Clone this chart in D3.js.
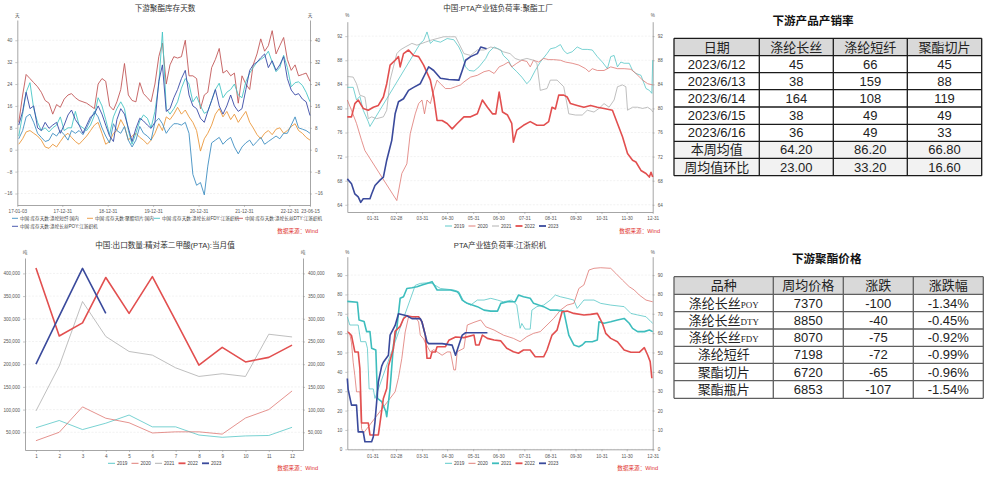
<!DOCTYPE html>
<html><head><meta charset="utf-8">
<script src="https://cdn.jsdelivr.net/npm/d3@7"></script>
<style>
body{margin:0;background:#fff;}
svg{display:block;background:#fff;}
</style></head><body>
<svg id="c" width="993" height="482"></svg>
<script>
// ================= DATA =================
// Chart 1: 下游聚酯库存天数 (monthly readings, Jan 2017 – Jun 2023)
const invNames = ["中国:库存天数:涤纶短纤:国内","中国:库存天数:聚酯切片:国内","中国:库存天数:涤纶长丝FDY:江浙织机","中国:库存天数:涤纶长丝DTY:江浙织机","中国:库存天数:涤纶长丝POY:江浙织机"];
const invStaple = [4,7,12,13,10,6,4.5,3,3.5,6,5,7,5.5,3.5,7,6,7,5.5,8,11,14,12,8,5,2.5,9.5,7,6,8.5,3.5,1,3.5,8.5,6,5,3.5,10,11.5,9.5,6,8,9.5,9.5,9,10,6,-9,-13,-12,-16.5,-6,2.5,3.5,4.5,2,3.5,4.5,1,-1.5,1,2.5,3.5,1.5,3,4.5,2,3,4,5,4,6,6,9,12,8,7.5,7,6];
const invChips = [2,4,6.5,7,6,5,3.5,1,0.5,2,1,3,5,6,4.5,3,2,3.5,5,7,9,10,6,2,3,6,7,11,8.5,3.5,5,6,4.5,3.5,2,3.5,6,9.5,7,12,11,13,15.5,13,14.5,12,10,7,-0.5,4,6,9,13,15,12,14,11,13,10,12,14,10,8,5.5,4,6,7,5.5,7.5,8,6,7,8.5,9.5,7,6,4.5,3.5];
const invFDY = [5,13,21,24.5,15,10,7,8,6.5,8,9,12,7,8,8,14,9,8,7,9,12.5,19,16,11,5.5,12,15,17.5,15,7,2,6,10.5,12.7,11.5,8,14,24,43,15,13,15,17.5,22.5,26,24,17.5,19.5,16,13.3,14,18,22,24.3,19,21,22,24,20,19,24.8,28,30,32,33,34,36,32,28.5,30,34.5,30,23,24.5,24.8,23.5,21,17.5];
const invDTY = [10,20,27.5,26,24.5,23,21,18,17,13,16.5,15.5,18.5,20,20.5,19,18,17.5,17,16,15,24,26,25,16,14.5,17.5,22,31.5,20,18,17.5,24.5,20.5,19,17.5,24,34,39,24,31,34,33.5,34,40,27,27,26,15,20,21,30,33,37,28,29,27,28,17,27,24,22,31,35,40.5,36,38,43.5,35,38,41,33,29,31,27,27.5,28,25];
const invPOY = [9,14,21,15,16,8,7,10,7.8,9,10,6,9,12.7,14.5,11,9,6,9,12,13,16,13,9,5,3,11,15,13,8,3,7.8,11.5,10.5,9,7.8,10,25,31,14,15,19,22,26,29,20,16,15,11.5,10,14,18,22,16,13,16,20,16,14,15,22,29,31,32,33.6,35,30,32.5,29,31,34,26,21.8,20,20.5,18.5,17.5,12.5];
const invYTicks = [-16,-8,0,8,16,24,32,40];
const invXTickLabels = ["17-01-03","17-12-31","18-12-31","19-12-31","20-12-31","21-12-31","22-12-31","23-06-15"];

// Chart 2: 中国:PTA产业链负荷率:聚酯工厂  [day of year, %]
const yearNames = ["2019","2020","2021","2022","2023"];
const poly2019 = [[0,83.5],[7,83.5],[11,81.4],[15,82],[19,79.7],[25,77.8],[27,77],[87,90.8],[91,91.3],[95,92.7],[99,90.8],[103,91.3],[111,91],[119,91.6],[127,91.4],[133,90.2],[137,89],[141,86.9],[145,86.3],[151,86.2],[157,86.9],[165,88.3],[169,89.4],[175,90.2],[183,89.7],[186,88.8],[192,88],[196,86.9],[202,86.1],[208,85.2],[214,84.1],[218,84.7],[224,86.3],[230,87.7],[238,89.1],[242,89.9],[248,90.1],[254,90.6],[258,89.6],[262,89.1],[268,89.4],[274,90.2],[280,89.8],[286,89.8],[292,89.7],[298,88.6],[304,87.7],[310,86.6],[314,88.6],[318,88.8],[322,86.9],[326,87.7],[330,87.5],[336,87.5],[340,86.3],[344,85.8],[350,85.5],[356,83.3],[360,83],[363,82.5],[364,88]];
const poly2020 = [[0,81.4],[5,79.7],[11,77.5],[17,74.7],[21,73],[59,64.7],[65,69.2],[71,70.8],[75,75.8],[81,79.1],[85,80.8],[89,81.4],[92,79.1],[95,81.4],[99,80.8],[103,83],[107,84.7],[111,84.1],[117,83.3],[123,83.3],[129,83.6],[135,83.9],[139,84.4],[147,85.2],[155,85.5],[163,86.1],[169,86.3],[175,85.8],[181,86.9],[186,87.2],[192,87.7],[196,86.9],[202,87.5],[208,88],[214,87.8],[218,86.9],[222,88],[228,87.7],[234,88.3],[240,88.1],[246,88.1],[254,88],[260,87.7],[268,87.5],[276,87.2],[284,86.6],[288,86.1],[292,86.6],[298,86.3],[306,86.3],[314,86.9],[322,86.6],[330,86.6],[338,86.5],[344,85.8],[352,84.7],[358,84.1],[364,83.9]];
const poly2021 = [[0,85.3],[7,85.2],[11,84.1],[15,82.2],[21,81.9],[25,78.3],[29,78.6],[35,78.3],[43,78.6],[47,79.7],[51,84.7],[55,86.9],[59,89.1],[63,89.7],[69,90.2],[77,90.8],[83,90.5],[89,90.8],[93,91],[99,91.3],[107,91.6],[115,91.9],[123,91.9],[129,91.9],[133,90.8],[139,89.1],[147,88.8],[155,89.7],[163,89.7],[171,90.2],[179,89.9],[186,89.4],[194,89.1],[200,88.3],[206,88],[214,88.3],[222,88],[226,87.5],[230,83],[238,83.3],[242,84.7],[250,84.7],[258,83.6],[264,79.1],[272,78.9],[280,78.9],[286,79.7],[294,79.4],[300,80],[306,80.8],[312,80.2],[318,81.4],[322,83.6],[328,83.9],[332,83.6],[334,79.7],[340,80.2],[346,80.2],[352,80],[358,80.2],[363,79.7],[364,79.4]];
const poly2022 = [[0,78.6],[5,78.6],[9,80.8],[13,81.4],[19,80],[25,79.7],[31,80.2],[37,80.5],[43,81.9],[47,84.1],[51,87.2],[57,88],[61,88.6],[63,86.9],[67,89.1],[73,89.7],[79,88.8],[85,88.6],[91,87.2],[99,84.7],[103,81.9],[107,78],[113,78],[119,77.5],[125,76.6],[131,77.5],[139,78.6],[147,78.6],[155,79.1],[161,81.4],[167,80.2],[173,79.1],[177,79.1],[181,82.7],[185,79.4],[191,78.9],[196,77.5],[198,74.4],[202,76.4],[210,77.2],[218,77.8],[226,77.2],[234,77.2],[240,77.8],[244,80.2],[248,79.9],[252,82.2],[258,82.2],[262,81.9],[266,80.8],[274,80.5],[282,80.2],[290,80.5],[298,80.2],[306,80],[316,79.7],[322,77.5],[328,75.3],[334,72.5],[340,71.4],[344,71.1],[350,69.7],[356,69.2],[360,68.6],[362,69.4],[364,68.6]];
const poly2023 = [[0,68.3],[5,67.5],[9,65.8],[13,65.3],[16,64.4],[19,65],[27,65],[29,65.8],[33,67.2],[39,68.1],[43,68.6],[47,71.4],[51,73.6],[53,74.7],[57,79.1],[61,81.1],[67,81.6],[73,83],[79,83.5],[87,84.1],[93,85.8],[97,86.9],[103,86.3],[111,85],[121,84.8],[133,84.7],[137,86.3],[141,88],[147,88.6],[155,89.1],[159,90.2],[166,89.9]];
const polyYTicks = [64,68,72,76,80,84,88,92];
const monthEndLabels = ["01-31","02-28","03-31","04-30","05-31","06-30","07-31","08-31","09-30","10-31","11-30","12-31"];

// Chart 3: 中国:出口数量:精对苯二甲酸(PTA):当月值 (吨)
const exportMonths = [1,2,3,4,5,6,7,8,9,10,11,12];
const export2019 = [60000,76000,56000,70000,88000,62000,62000,44000,39000,42000,43000,61000];
const export2020 = [31500,50000,106000,81000,71000,48500,51000,51000,46000,81500,100000,141000];
const export2021 = [97000,196000,338000,261000,228000,220000,192000,173000,179000,173000,266000,260000];
const export2022 = [412000,262000,291000,391000,312000,393000,296000,198000,237000,205000,215000,242000];
const export2023 = [200000,306000,411000,312000];
const exportYTicks = [50000,100000,150000,200000,250000,300000,350000,400000];

// Chart 4: PTA产业链负荷率:江浙织机  [day of year, %]
const loom2019 = [[0,68.5],[3,64.2],[13,64.2],[16,55.6],[22,55.6],[24,52.2],[26,31.2],[31,31.2],[33,26.3],[81,84.7],[87,85.7],[95,86],[101,85.7],[111,83.1],[127,82.3],[133,81.4],[139,76.2],[147,74.5],[155,77.1],[163,77.1],[171,78],[179,77.1],[186,76.2],[196,77.1],[202,74.5],[206,62.5],[208,65],[212,62.1],[218,62.1],[220,71.9],[226,73.7],[234,74.5],[242,77.1],[248,79.7],[254,78.8],[262,78],[270,77.1],[274,72.8],[282,77.1],[294,77.1],[302,75.4],[314,74.5],[330,73.7],[338,70.2],[346,69.4],[356,68.5],[362,65.9],[364,65.1]];
const loom2020 = [[0,61],[3,59.5],[5,55],[7,45],[9,38],[11,29.7],[15,29.7],[17,10.8],[19,8.2],[57,29.7],[61,37],[65,47],[69,60.6],[73,68.4],[81,68.4],[85,65.8],[87,59],[91,57],[93,55],[99,50.3],[103,51.5],[113,48.6],[119,50.3],[123,50.3],[127,41],[129,41],[131,50.4],[139,52.2],[143,64.2],[151,65.6],[159,66.8],[165,63.3],[175,61.6],[186,59],[198,57.3],[206,55.6],[214,58.2],[222,59.9],[230,60.8],[238,64.2],[246,67.6],[254,71.9],[262,74.5],[270,75.4],[276,83.1],[282,84.9],[288,92.6],[294,93.5],[302,93.8],[314,93.5],[320,90.9],[328,87.4],[336,84],[342,82.3],[348,79.7],[356,77.1],[364,76.2]];
const loom2021 = [[0,76.4],[12,76],[14,66.8],[20,66],[23,60.8],[27,60.8],[29,52.2],[34,51.3],[36,26.3],[41,24.6],[46,19.4],[47,16.9],[51,31.5],[55,53.9],[59,62.5],[63,78],[67,78.8],[71,83.1],[77,83.5],[83,84],[89,84.9],[95,85.7],[101,86.6],[107,82.3],[115,82.3],[123,82.3],[131,81.4],[133,80.5],[137,77.1],[143,75.4],[149,74.5],[155,73.7],[163,71.9],[171,71.4],[179,71.4],[183,75.4],[191,76.2],[200,76.2],[204,79.7],[210,78.8],[218,78],[222,75.4],[228,74.5],[234,73.7],[242,71.9],[250,71.9],[258,71.4],[264,59],[270,53.9],[276,53],[280,53.9],[284,55.6],[292,55.6],[298,56.5],[300,65.9],[306,65.1],[314,65.9],[322,66.8],[330,67.6],[336,65.1],[340,62.5],[346,60.8],[354,60.8],[360,61.6],[364,60.8]];
const loom2022 = [[1,60.6],[5,58.8],[9,50.3],[13,50.3],[15,41.7],[17,13.6],[25,13.6],[27,7.4],[37,7.4],[39,13.6],[43,26.3],[47,31.4],[49,43],[55,52],[57,61],[63,63.5],[67,67.5],[71,69],[77,68.5],[85,68.5],[89,65.8],[93,59],[95,47],[99,47],[101,50.3],[105,50.3],[107,53],[117,53],[121,56.3],[129,58],[139,57.7],[151,59],[153,53.9],[157,53.9],[161,59],[167,57.3],[175,56.5],[183,56],[190,52.2],[198,50.4],[204,49.6],[210,51.3],[218,51.3],[224,47.8],[234,47.8],[238,51.3],[244,59],[250,61.6],[256,71.1],[262,71.4],[270,70.2],[282,69.4],[290,69.7],[298,70.2],[304,65.1],[308,59.9],[314,57.3],[322,55.6],[330,51.3],[338,50.1],[348,50.1],[354,52.5],[358,48.7],[361,45.3],[363,36.7]];
const loom2023 = [[0,36.6],[1,31],[5,22.8],[11,22.8],[13,9],[19,9],[21,3.9],[29,3.9],[31,6.5],[33,14.2],[35,24.5],[37,34.8],[41,43],[43,45],[49,48.6],[51,59],[57,64],[61,70],[71,69],[77,67.5],[87,67.5],[89,65.8],[95,55.5],[97,54.6],[113,54.6],[125,53.8],[129,48.6],[133,53.9],[137,59],[141,60.2],[167,60.2]];
const loomYTicks = [0,10,20,30,40,50,60,70,80,90];

// Table 1: 下游产品产销率
const salesHeader = ["日期","涤纶长丝","涤纶短纤","聚酯切片"];
const salesRowLabels = ["2023/6/12","2023/6/13","2023/6/14","2023/6/15","2023/6/16","本周均值","周均值环比"];
const salesFilament = ["45","38","164","38","36","64.20","23.00"];
const salesStaple = ["66","159","108","49","49","86.20","33.20"];
const salesChips = ["45","88","119","49","33","66.80","16.60"];

// Table 2: 下游聚酯价格
const priceHeader = ["品种","周均价格","涨跌","涨跌幅"];
const priceNames = ["涤纶长丝POY","涤纶长丝DTY","涤纶长丝FDY","涤纶短纤","聚酯切片","聚酯瓶片"];
const priceWeekly = [7370,8850,8070,7198,6720,6853];
const priceChange = [-100,-40,-75,-72,-65,-107];
const pricePct = ["-1.34%","-0.45%","-0.92%","-0.99%","-0.96%","-1.54%"];

// ================= DRAWING =================
const svg = d3.select("#c");
const FONT = '"Liberation Sans","Noto Sans CJK SC","Noto Sans",sans-serif';
const C = {teal:"#4cc3c3", tealThick:"#3dbdbd", red2020:"#dc6f69", grey:"#a9a9a9", red:"#e24f4f", navy:"#3a4a9c",
  staple:"#3f8ec2", chips:"#ea973c", fdy:"#47c5c5", dty:"#c25858", poy:"#3949a6", src:"#e0312e"};

function styleAxis(sel){
  sel.selectAll(".domain").attr("stroke","#8f8f8f").attr("stroke-width",0.8);
  sel.selectAll(".tick line").attr("stroke","#8f8f8f").attr("stroke-width",0.5);
  sel.selectAll(".tick text").attr("fill","#555").style("font-size","4.6px").style("font-family",FONT);
}
function frame(g, x, y, yTicks, yFmt, xVals, xFmt){
  const [x0,x1] = x.range(); const [yb] = y.range();
  g.append("g").selectAll("line").data(yTicks).join("line")
    .attr("x1",x0).attr("x2",x1).attr("y1",d=>y(d)).attr("y2",d=>y(d))
    .attr("stroke","#e4e4e4").attr("stroke-width",0.5).attr("stroke-dasharray","2,1.5");
  g.append("g").attr("transform",`translate(${x0},0)`)
    .call(d3.axisLeft(y).tickValues(yTicks).tickFormat(yFmt).tickSize(2).tickSizeOuter(0).tickPadding(3)).call(styleAxis);
  g.append("g").attr("transform",`translate(${x1},0)`)
    .call(d3.axisRight(y).tickValues(yTicks).tickFormat(yFmt).tickSize(2).tickSizeOuter(0).tickPadding(3)).call(styleAxis);
  g.append("g").attr("transform",`translate(0,${yb})`)
    .call(d3.axisBottom(x).tickValues(xVals).tickFormat(xFmt).tickSize(2).tickSizeOuter(0).tickPadding(3)).call(styleAxis);
}
function title(t,cx,y){
  svg.append("text").attr("x",cx).attr("y",y).attr("text-anchor","middle")
    .style("font-family",FONT).style("font-size","7.6px").attr("fill","#333").text(t);
}
function unit(t,x,y){
  svg.append("text").attr("x",x).attr("y",y).attr("text-anchor","middle")
    .style("font-family",FONT).style("font-size","4.6px").attr("fill","#555").text(t);
}
function source(xr,y){
  svg.append("text").attr("x",xr).attr("y",y).attr("text-anchor","end")
    .style("font-family",FONT).style("font-size","5.6px").attr("fill",C.src).text("数据来源：Wind");
}
function legend(items, x0, y, step){
  const g = svg.append("g");
  items.forEach((it,i)=>{
    const x = x0 + i*step;
    g.append("line").attr("x1",x).attr("x2",x+7).attr("y1",y).attr("y2",y)
      .attr("stroke",it.color).attr("stroke-width",it.w>1.2?1.8:0.9);
    g.append("text").attr("x",x+9).attr("y",y+1.7).style("font-family",FONT).style("font-size","4.7px")
      .attr("fill","#444").text(it.name);
  });
}
function drawLines(g, series, xf, yf){
  const line = d3.line().x(d=>xf(d[0])).y(d=>yf(d[1]));
  series.forEach(s=>{
    g.append("path").datum(s.data).attr("d",line).attr("fill","none")
      .attr("stroke",s.color).attr("stroke-width",s.w).attr("stroke-linejoin","round");
  });
}

// ---------- Chart 1 ----------
(function(){
  const parse = d3.timeParse("%y-%m-%d");
  const dates = d3.timeMonth.range(new Date(2017,0,1), new Date(2023,6,1)).map(d=>d3.timeDay.offset(d,14));
  const tickDates = invXTickLabels.map(parse);
  const x = d3.scaleTime().domain([tickDates[0], tickDates[tickDates.length-1]]).range([17.3,310]);
  const y = d3.scaleLinear().domain([-20.2,47.4]).range([205,20]);
  const g = svg.append("g");
  frame(g, x, y, invYTicks, d3.format("d"), tickDates, d3.timeFormat("%y-%m-%d"));
  const cols = [C.staple, C.chips, C.fdy, C.dty, C.poy];
  const vals = [invStaple, invChips, invFDY, invDTY, invPOY];
  const series = vals.map((v,i)=>({data: v.map((d,j)=>[dates[j], d]), color: cols[i], w: 0.9}));
  // draw order: staple, chips, FDY, DTY, POY
  drawLines(g, [series[3], series[1], series[0], series[2], series[4]], x, y);
  title("下游聚酯库存天数",165,10.5);
  unit("天",17.3,17);unit("天",310,17);
  const lg = svg.append("g");
  const pos = [[12,218.3],[87,218.3],[154,218.3],[237,218.3],[12,226.3]];
  invNames.forEach((n,i)=>{
    lg.append("line").attr("x1",pos[i][0]).attr("x2",pos[i][0]+6).attr("y1",pos[i][1]).attr("y2",pos[i][1])
      .attr("stroke",cols[i]).attr("stroke-width",0.9);
    lg.append("text").attr("x",pos[i][0]+8).attr("y",pos[i][1]+1.7).style("font-family",FONT)
      .style("font-size","4.6px").attr("fill","#444").text(n);
  });
  source(318,233);
})();

// ---------- Chart 2 ----------
(function(){
  const tickDays = monthEndLabels.map(l=>{const d=d3.timeParse("%Y-%m-%d")("2019-"+l); return d3.timeDay.count(d3.timeYear(d), d);});
  const x = d3.scaleLinear().domain([0,364]).range([347.3,652.7]);
  const y = d3.scaleLinear().domain([62.8,94.4]).range([212,21.7]);
  const g = svg.append("g");
  frame(g, x, y, polyYTicks, d3.format("d"), tickDays, (d,i)=>monthEndLabels[i]);
  const s = [
    {data:poly2019,color:C.teal,w:0.75},{data:poly2020,color:C.red2020,w:0.75},{data:poly2021,color:C.grey,w:0.75},
    {data:poly2022,color:C.red,w:1.6},{data:poly2023,color:C.navy,w:1.6}];
  drawLines(g, s, x, y);
  title("中国:PTA产业链负荷率:聚酯工厂",498,10.5);
  unit("%",347.3,16.5);unit("%",652.7,16.5);
  legend(s.map((d,i)=>({name:yearNames[i],color:d.color,w:d.w})),445,226,23.5);
  source(660,233);
})();

// ---------- Chart 3 ----------
(function(){
  const x = d3.scalePoint().domain(exportMonths).range([25,303]).padding(0.47);
  const y = d3.scaleLinear().domain([11000,433900]).range([450,258]);
  const g = svg.append("g");
  frame(g, x, y, exportYTicks, d3.format(","), exportMonths, d3.format("d"));
  const mk = arr=>arr.map((v,i)=>[exportMonths[i],v]);
  const s = [
    {data:mk(export2019),color:C.teal,w:0.75},{data:mk(export2020),color:C.red2020,w:0.75},{data:mk(export2021),color:C.grey,w:0.75},
    {data:mk(export2022),color:C.red,w:1.6},{data:mk(export2023),color:C.navy,w:1.6}];
  drawLines(g, s, x, y);
  title("中国:出口数量:精对苯二甲酸(PTA):当月值",165,247.5);
  unit("吨",25,254);unit("吨",303,254);
  legend(s.map((d,i)=>({name:yearNames[i],color:d.color,w:d.w})),108,463.3,23.5);
  source(318,470);
})();

// ---------- Chart 4 ----------
(function(){
  const tickDays = monthEndLabels.map(l=>{const d=d3.timeParse("%Y-%m-%d")("2019-"+l); return d3.timeDay.count(d3.timeYear(d), d);});
  const x = d3.scaleLinear().domain([0,364]).range([347.3,652.7]);
  const y = d3.scaleLinear().domain([0,99.5]).range([449.3,256.7]);
  const g = svg.append("g");
  frame(g, x, y, loomYTicks, d3.format("d"), tickDays, (d,i)=>monthEndLabels[i]);
  const s = [
    {data:loom2019,color:C.teal,w:0.75},{data:loom2020,color:C.red2020,w:0.75},{data:loom2021,color:C.tealThick,w:1.6},
    {data:loom2022,color:C.red,w:1.6},{data:loom2023,color:C.navy,w:1.6}];
  drawLines(g, s, x, y);
  title("PTA产业链负荷率:江浙织机",500,247.5);
  unit("%",347.3,253.5);unit("%",652.7,253.5);
  legend(s.map((d,i)=>({name:yearNames[i],color:d.color,w:d.w})),445,463.3,23.5);
  source(658,470);
})();

// ---------- Table 1 ----------
(function(){
  const colsX = [674,759.3,833.3,907.3,981.7];
  const rowsY = [38.3,55.7,72.7,89.7,107,124.3,141.3,158.3,175.7];
  const g = svg.append("g");
  svg.append("text").attr("x",813).attr("y",24.5).attr("text-anchor","middle").style("font-family",FONT)
    .style("font-size","11.6px").style("font-weight","bold").attr("fill","#111").text("下游产品产销率");
  const rows = [salesHeader].concat(salesRowLabels.map((d,i)=>[d,salesFilament[i],salesStaple[i],salesChips[i]]));
  rows.forEach((r,ri)=>{
    const bg = ri===0 ? "#d9d9d9" : (ri>=6 ? "#f2f2f2" : "#ffffff");
    g.append("rect").attr("x",colsX[0]).attr("y",rowsY[ri]).attr("width",colsX[4]-colsX[0]).attr("height",rowsY[ri+1]-rowsY[ri]).attr("fill",bg);
    r.forEach((t,ci)=>{
      g.append("text").attr("x",(colsX[ci]+colsX[ci+1])/2).attr("y",(rowsY[ri]+rowsY[ri+1])/2+4.6)
        .attr("text-anchor","middle").style("font-family",FONT).style("font-size","13px").attr("fill","#222").text(t);
    });
  });
  rowsY.forEach(yv=>g.append("line").attr("x1",colsX[0]).attr("x2",colsX[4]).attr("y1",yv).attr("y2",yv).attr("stroke","#1a1a1a").attr("stroke-width",1.3));
  colsX.forEach(xv=>g.append("line").attr("x1",xv).attr("x2",xv).attr("y1",rowsY[0]).attr("y2",rowsY[rowsY.length-1]).attr("stroke","#1a1a1a").attr("stroke-width",1.3));
})();

// ---------- Table 2 ----------
(function(){
  const colsX = [674,773.3,843.3,913.3,983.3];
  const rowsY = [276.7,294.3,311.7,329,346.3,363.3,380.7,398.3];
  const g = svg.append("g");
  svg.append("text").attr("x",826.7).attr("y",262.6).attr("text-anchor","middle").style("font-family",FONT)
    .style("font-size","11.6px").style("font-weight","bold").attr("fill","#111").text("下游聚酯价格");
  const rows = [priceHeader].concat(priceNames.map((d,i)=>[d,String(priceWeekly[i]),String(priceChange[i]),pricePct[i]]));
  rows.forEach((r,ri)=>{
    const bg = ri===0 ? "#d9d9d9" : "#ffffff";
    g.append("rect").attr("x",colsX[0]).attr("y",rowsY[ri]).attr("width",colsX[4]-colsX[0]).attr("height",rowsY[ri+1]-rowsY[ri]).attr("fill",bg);
    r.forEach((t,ci)=>{
      const tx = g.append("text").attr("x",(colsX[ci]+colsX[ci+1])/2).attr("y",(rowsY[ri]+rowsY[ri+1])/2+4.6)
        .attr("text-anchor","middle").style("font-family",FONT).style("font-size","13px").attr("fill","#222");
      const m = /^([^A-Z]+)([A-Z]+)$/.exec(t);
      if(ri>0 && ci===0 && m){
        tx.append("tspan").text(m[1]);
        tx.append("tspan").style("font-family",'"Liberation Serif","DejaVu Serif",serif').style("font-size","9px").text(m[2]);
      } else tx.text(t);
    });
  });
  rowsY.forEach(yv=>g.append("line").attr("x1",colsX[0]).attr("x2",colsX[4]).attr("y1",yv).attr("y2",yv).attr("stroke","#5f5f5f").attr("stroke-width",1.3));
  colsX.forEach(xv=>g.append("line").attr("x1",xv).attr("x2",xv).attr("y1",rowsY[0]).attr("y2",rowsY[rowsY.length-1]).attr("stroke","#5f5f5f").attr("stroke-width",1.3));
})();
</script></body></html>
